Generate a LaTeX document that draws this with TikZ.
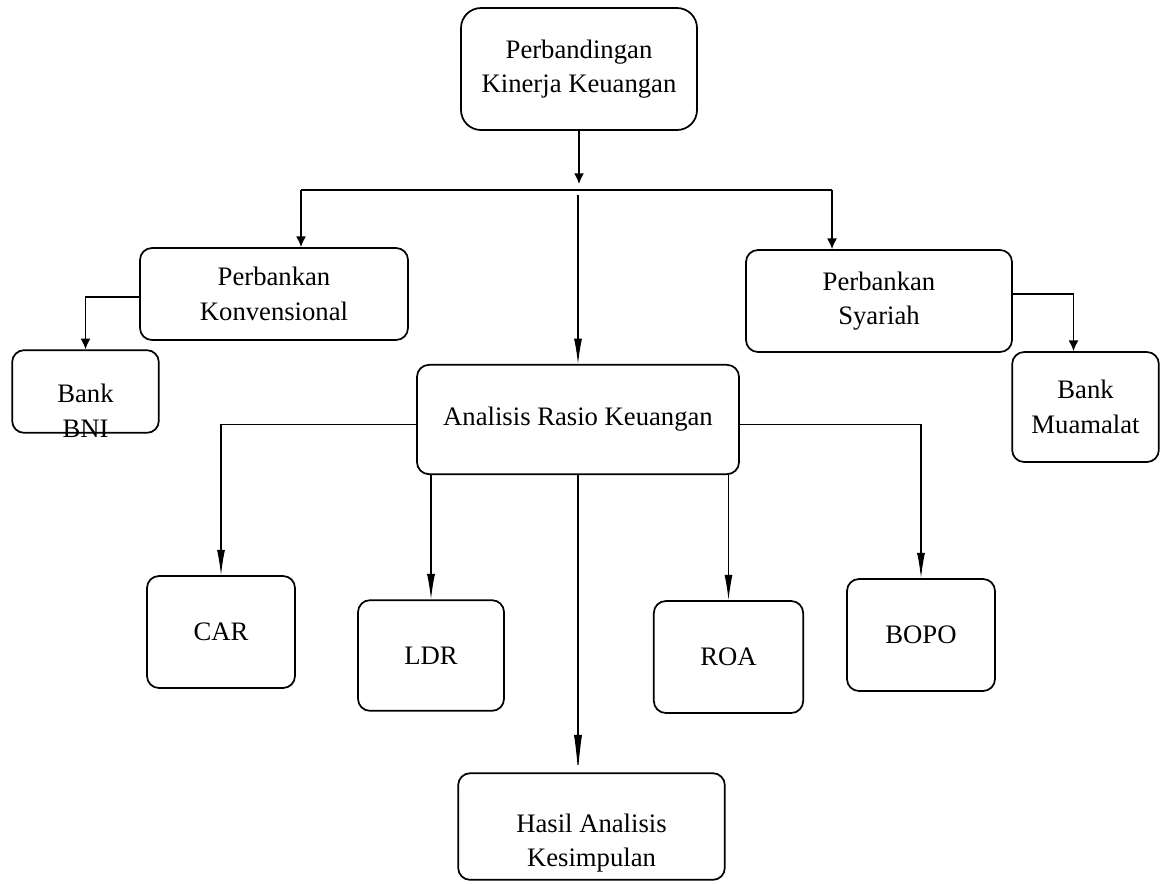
\documentclass[tikz,border=0pt]{standalone}
\usepackage{fontspec}
\setmainfont{Liberation Serif}
\usetikzlibrary{arrows.meta}

\begin{document}
\begin{tikzpicture}[x=0.75pt, y=-0.75pt,
    blocktext/.style ={align=center, font=\fontsize{20}{26}\selectfont},
    block/.style ={rectangle, rounded corners=9pt, draw, line width=1.3pt, blocktext},
    toparrow/.style ={line width=1.3pt, -{Latex[length=8pt,width=7.5pt]}},
    subarrow/.style ={line width=0.8pt, -{Latex[length=19pt,width=6pt]}}]
   \useasboundingbox (0,0) rectangle (1169,883);
   \node[block, rounded corners=15pt, minimum width=177pt, minimum height=91.5pt] (kinerja) at (579,69) {Perbandingan\\Kinerja Keuangan};
   \node[block, minimum width=201pt, minimum height=69pt] (konv) at (274,294) {Perbankan\\Konvensional};
   \node[block, minimum width=110pt, minimum height=62pt,
     label={[blocktext, yshift=-14.5pt]center:Bank\\BNI}] (bni) at (85.5,391.5) {};
   \node[block, minimum width=199.5pt, minimum height=76.5pt] (syariah) at (879,301) {Perbankan\\Syariah};
   \node[block, minimum width=110pt, minimum height=82.5pt] (muamalat) at (1085.5,407) {Bank\\Muamalat};
   \node[block, minimum width=241.5pt, minimum height=82pt] (rasio) at (578,419.5) {Analisis Rasio Keuangan};
   \node[block, minimum width=111pt, minimum height=84pt] (car) at (221,632) {CAR};
   \node[block, minimum width=109.5pt, minimum height=83pt] (ldr) at (431,655.5) {LDR};
   \node[block, minimum width=112pt, minimum height=84pt] (roa) at (728.5,657) {ROA};
   \node[block, minimum width=111pt, minimum height=84pt] (bopo) at (921,635) {BOPO};
   \node[block, minimum width=200pt, minimum height=80pt,
     label={[blocktext, yshift=-12.5pt]center:Hasil Analisis\\Kesimpulan}] (hasil) at (591.5,826.5) {};
   % bus below the top box
   \coordinate (busT) at (579,184);
   \coordinate (busL) at (301,190);
   \coordinate (busR) at (832,190);
   \coordinate (busC) at (578,195);
   \draw[toparrow] (kinerja) -- (busT);
   \draw[line width=0.9pt] (busL) -- (busR);
   \draw[toparrow] (busL) -- (busL |- konv.north);
   \draw[toparrow] (busR) -- (busR |- syariah.north);
   \draw[subarrow] (busC) -- (rasio);
   \draw[toparrow] ([yshift=-2pt]konv.west) -| (bni);
   \draw[toparrow] ([yshift=5pt]syariah.east) -| ([xshift=-9pt]muamalat.north);
   % ratios
   \draw[subarrow] ([yshift=-4pt]rasio.west) -| (car);
   \draw[subarrow] ([yshift=-4pt]rasio.east) -| (bopo);
   \draw[subarrow] (ldr |- rasio.south) -- (ldr);
   \draw[subarrow] (roa |- rasio.south) -- (roa);
   \draw[subarrow, -{Latex[length=28pt,width=6pt]}] (rasio.south) -- (rasio.south |- hasil.north);
 \end{tikzpicture}
\end{document}
